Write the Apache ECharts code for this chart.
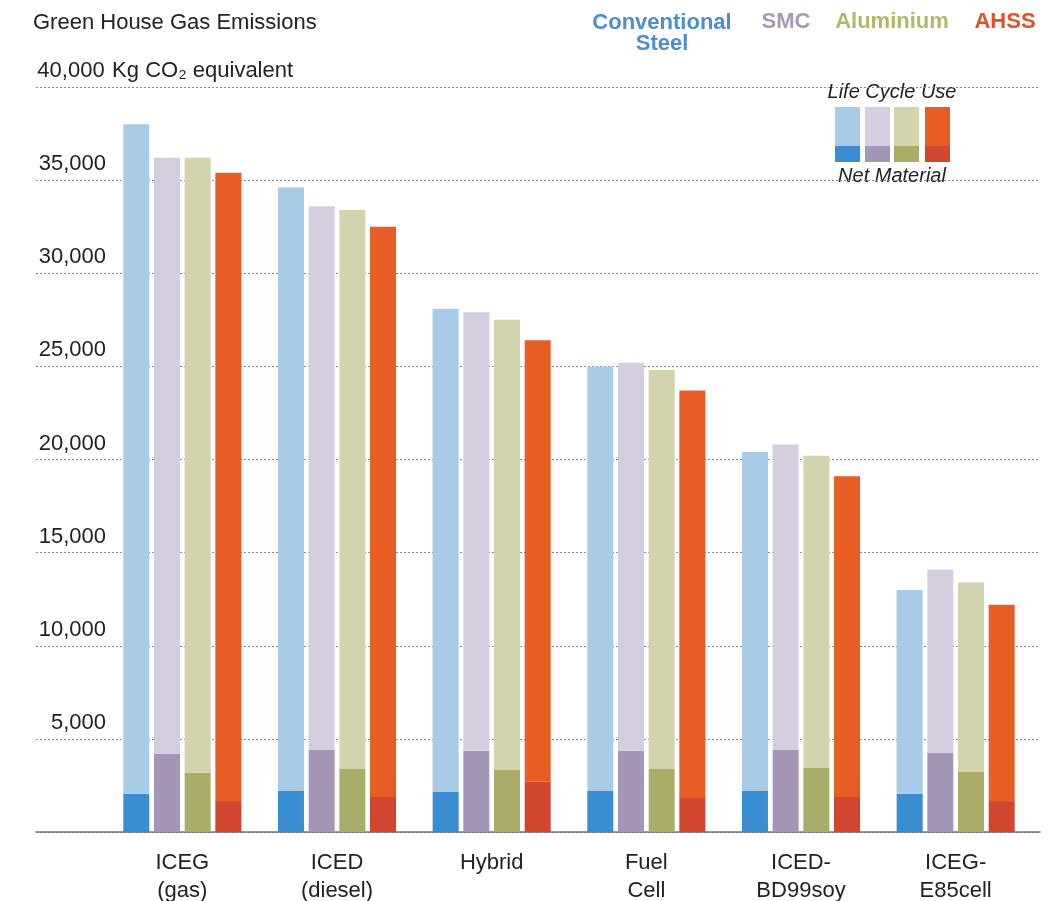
<!DOCTYPE html>
<html><head><meta charset="utf-8">
<script src="https://cdn.jsdelivr.net/npm/echarts@6/dist/echarts.min.js"></script>
<style>html,body{margin:0;padding:0;background:#fff}#c{width:1061px;height:901px}</style>
</head><body><div id="c"></div>
<script>
const categories = ['ICEG\n(gas)', 'ICED\n(diesel)', 'Hybrid', 'Fuel\nCell', 'ICED-\nBD99soy', 'ICEG-\nE85cell'];
const materials = ['Conventional Steel', 'SMC', 'Aluminium', 'AHSS'];
// total emissions (kg CO2 eq.)
const totalSteel = [38000, 34600, 28100, 25000, 20400, 13000];
const totalSMC   = [36200, 33600, 27900, 25200, 20800, 14100];
const totalAlu   = [36200, 33400, 27500, 24800, 20200, 13400];
const totalAHSS  = [35400, 32500, 26400, 23700, 19100, 12200];
// net material part
const netSteel = [2050, 2200, 2150, 2200, 2200, 2050];
const netSMC   = [4200, 4400, 4350, 4350, 4400, 4250];
const netAlu   = [3200, 3380, 3330, 3380, 3430, 3220];
const netAHSS  = [1660, 1880, 2700, 1830, 1880, 1660];
const yTicks = [0, 5000, 10000, 15000, 20000, 25000, 30000, 35000, 40000];

const totals = [totalSteel, totalSMC, totalAlu, totalAHSS];
const nets = [netSteel, netSMC, netAlu, netAHSS];
const darkCol = ['#3a8dd0', '#a496b6', '#a9ad68', '#d2452e'];
const lightCol = ['#a8cbe8', '#d5cde0', '#d3d3ae', '#e75d26'];
const textCol = ['#4a8fd0', '#a899b8', '#b2b86a', '#e0502a'];

const series = [];
materials.forEach((m, i) => {
  series.push({
    name: m + ' net', type: 'bar', stack: 's' + i, xAxisIndex: 0, yAxisIndex: 0,
    barWidth: 26, barGap: '18%',
    itemStyle: { color: darkCol[i] }, data: nets[i], silent: true
  });
  series.push({
    name: m + ' use', type: 'bar', stack: 's' + i, xAxisIndex: 0, yAxisIndex: 0,
    barWidth: 26, barGap: '18%',
    itemStyle: { color: lightCol[i] }, data: totals[i].map((t, k) => t - nets[i][k]), silent: true
  });
});

const fmt = v => v.toLocaleString('en-US');
const chart = echarts.init(document.getElementById('c'), null, { renderer: 'canvas' });
const font = 'Liberation Sans, Arial, Helvetica, sans-serif';

const sw = [];
const swX = [835, 865, 894, 925];
for (let i = 0; i < 4; i++) {
  sw.push({ type: 'rect', shape: { x: swX[i], y: 107, width: 25, height: 39 }, style: { fill: lightCol[i] } });
  sw.push({ type: 'rect', shape: { x: swX[i], y: 146, width: 25, height: 16 }, style: { fill: darkCol[i] } });
}

chart.setOption({
  animation: false,
  textStyle: { fontFamily: font },
  grid: [
    { left: 105, right: 28, top: 87, bottom: 69, containLabel: false, outerBoundsMode: 'none' },
    { left: 36, right: 21, top: 87, bottom: 69, containLabel: false, outerBoundsMode: 'none' }
  ],
  xAxis: [
    { type: 'category', gridIndex: 0, data: categories,
      axisLine: { show: false }, axisTick: { show: false },
      axisLabel: { fontSize: 22, lineHeight: 28, color: '#222', margin: 17, fontFamily: font, interval: 0 } },
    { type: 'value', gridIndex: 1, min: 0, max: 1, show: true,
      axisLine: { show: true, onZero: false, lineStyle: { color: '#777', width: 1.5 } },
      axisTick: { show: false }, axisLabel: { show: false }, splitLine: { show: false } }
  ],
  yAxis: [
    { type: 'value', gridIndex: 0, min: 0, max: 40000, interval: 5000, show: false, splitLine: { show: false } },
    { type: 'value', gridIndex: 1, min: 0, max: 40000, interval: 5000,
      axisLine: { show: false }, axisTick: { show: false },
      splitLine: { show: true, lineStyle: { type: [2, 2], color: '#8a8a8a', width: 1 } },
      axisLabel: {
        inside: true, margin: 0, align: 'left', verticalAlign: 'bottom', padding: [0, 0, 5, 0],
        formatter: v => {
          if (!yTicks.includes(v) || v === 0) return '';
          if (v === 40000) return '{n|' + fmt(v) + '}{u| Kg CO₂ equivalent}';
          return '{n|' + fmt(v) + '}';
        },
        rich: {
          n: { fontSize: 22, color: '#222', width: 70, align: 'right', fontFamily: font },
          u: { fontSize: 22, color: '#222', fontFamily: font }
        }
      } }
  ],
  series: series,
  graphic: [
    { type: 'text', left: 33, top: 12, style: { text: 'Green House Gas Emissions', fontSize: 22, fill: '#222', fontFamily: font } },
    { type: 'text', x: 662, y: 33, style: { text: 'Conventional\nSteel', fontSize: 22, fontWeight: 'bold', fill: textCol[0], fontFamily: font, align: 'center', verticalAlign: 'middle', lineHeight: 21 } },
    { type: 'text', x: 786, y: 22, style: { text: 'SMC', fontSize: 22, fontWeight: 'bold', fill: textCol[1], fontFamily: font, align: 'center', verticalAlign: 'middle' } },
    { type: 'text', x: 892, y: 22, style: { text: 'Aluminium', fontSize: 22, fontWeight: 'bold', fill: textCol[2], fontFamily: font, align: 'center', verticalAlign: 'middle' } },
    { type: 'text', x: 1005, y: 22, style: { text: 'AHSS', fontSize: 22, fontWeight: 'bold', fill: textCol[3], fontFamily: font, align: 'center', verticalAlign: 'middle' } },
    { type: 'rect', shape: { x: 823, y: 80, width: 140, height: 110 }, style: { fill: '#fff' } },
    { type: 'rect', shape: { x: 427, y: 177, width: 103, height: 8 }, style: { fill: '#fff' } },
    { type: 'text', x: 892, y: 92, style: { text: 'Life Cycle Use', fontSize: 20, fontStyle: 'italic', fill: '#222', fontFamily: font, align: 'center', verticalAlign: 'middle' } },
    { type: 'text', x: 892, y: 176, style: { text: 'Net Material', fontSize: 20, fontStyle: 'italic', fill: '#222', fontFamily: font, align: 'center', verticalAlign: 'middle' } }
  ].concat(sw)
});
</script></body></html>
